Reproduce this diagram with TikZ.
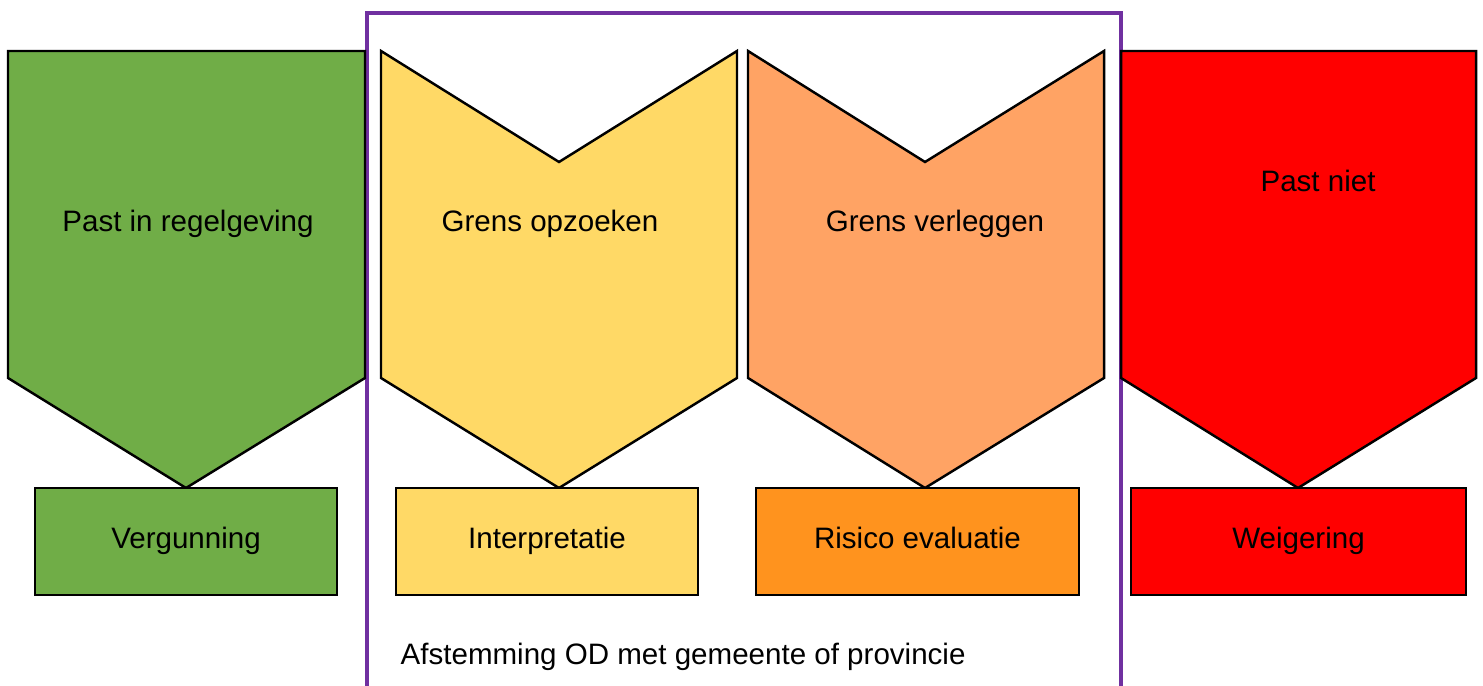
\documentclass[tikz,border=0pt]{standalone}
\usepackage{fontspec}
\setmainfont{Liberation Sans}
\usepackage{xcolor}
\usepackage{tikz}
\definecolor{okgreen}{RGB}{112, 173, 71}
\definecolor{edgeyellow}{RGB}{255, 217, 102}
\definecolor{edgeorange}{RGB}{255, 163, 100}
\definecolor{riskorange}{RGB}{255, 147, 30}
\definecolor{nored}{RGB}{255, 0, 0}
\definecolor{odpurple}{RGB}{112, 48, 160}

\begin{document}
\begin{tikzpicture}[x=0.01cm, y=-0.01cm, font=\fontsize{8.4}{10}\selectfont]
        \useasboundingbox (0,0) rectangle (1483,686);
        \tikzset{
            arrowshape/.style={draw=black, line width=0.7pt, line join=miter},
            outcome/.style={draw=black, line width=0.7pt, minimum height=1.07cm, inner sep=0pt, text height=6.5pt, text depth=2.8pt}
        }
        % Overleg frame (open at the bottom)
        \coordinate (frameBL) at (367,686);
        \coordinate (frameBR) at (1121,686);
        \draw[odpurple, line width=1.15pt] (frameBL) -- (367,13) -- (1121,13) -- (frameBR);
        
        % Arrow shapes
        \draw[arrowshape, fill=okgreen] (8,51) -- (365,51) -- (365,378) -- (186,488) -- (8,378) -- cycle;
        \draw[arrowshape, fill=edgeyellow] (381,51) -- (559,162) -- (737,51) -- (737,378) -- (559,488) -- (381,378) -- cycle;
        \draw[arrowshape, fill=edgeorange] (748,51) -- (925,162) -- (1104,51) -- (1104,378) -- (925,488) -- (748,378) -- cycle;
        \draw[arrowshape, fill=nored] (1121,51) -- (1476,51) -- (1476,378) -- (1298,488) -- (1121,378) -- cycle;
        
        % Labels on the arrows
        \node (pastin) at (188,224) {Past in regelgeving};
        \node (opzoeken) at (550,224) {Grens opzoeken};
        \node (verleggen) at (935,224) {Grens verleggen};
        \node (pastniet) at (1318,181) {Past niet};
        
        % Outcome boxes
        \node[outcome, fill=okgreen, minimum width=3.02cm] (vergunning) at (186,541.5) {Vergunning};
        \node[outcome, fill=edgeyellow, minimum width=3.02cm] (interpretatie) at (547,541.5) {Interpretatie};
        \node[outcome, fill=riskorange, minimum width=3.23cm] (risico) at (917.5,541.5) {Risico evaluatie};
        \node[outcome, fill=nored, minimum width=3.35cm] (weigering) at (1298.5,541.5) {Weigering};
        
        % Frame caption
        \node[anchor=west, inner sep=0pt] (afstemming) at (400,657) {Afstemming OD met gemeente of provincie};
    \end{tikzpicture}
\end{document}
